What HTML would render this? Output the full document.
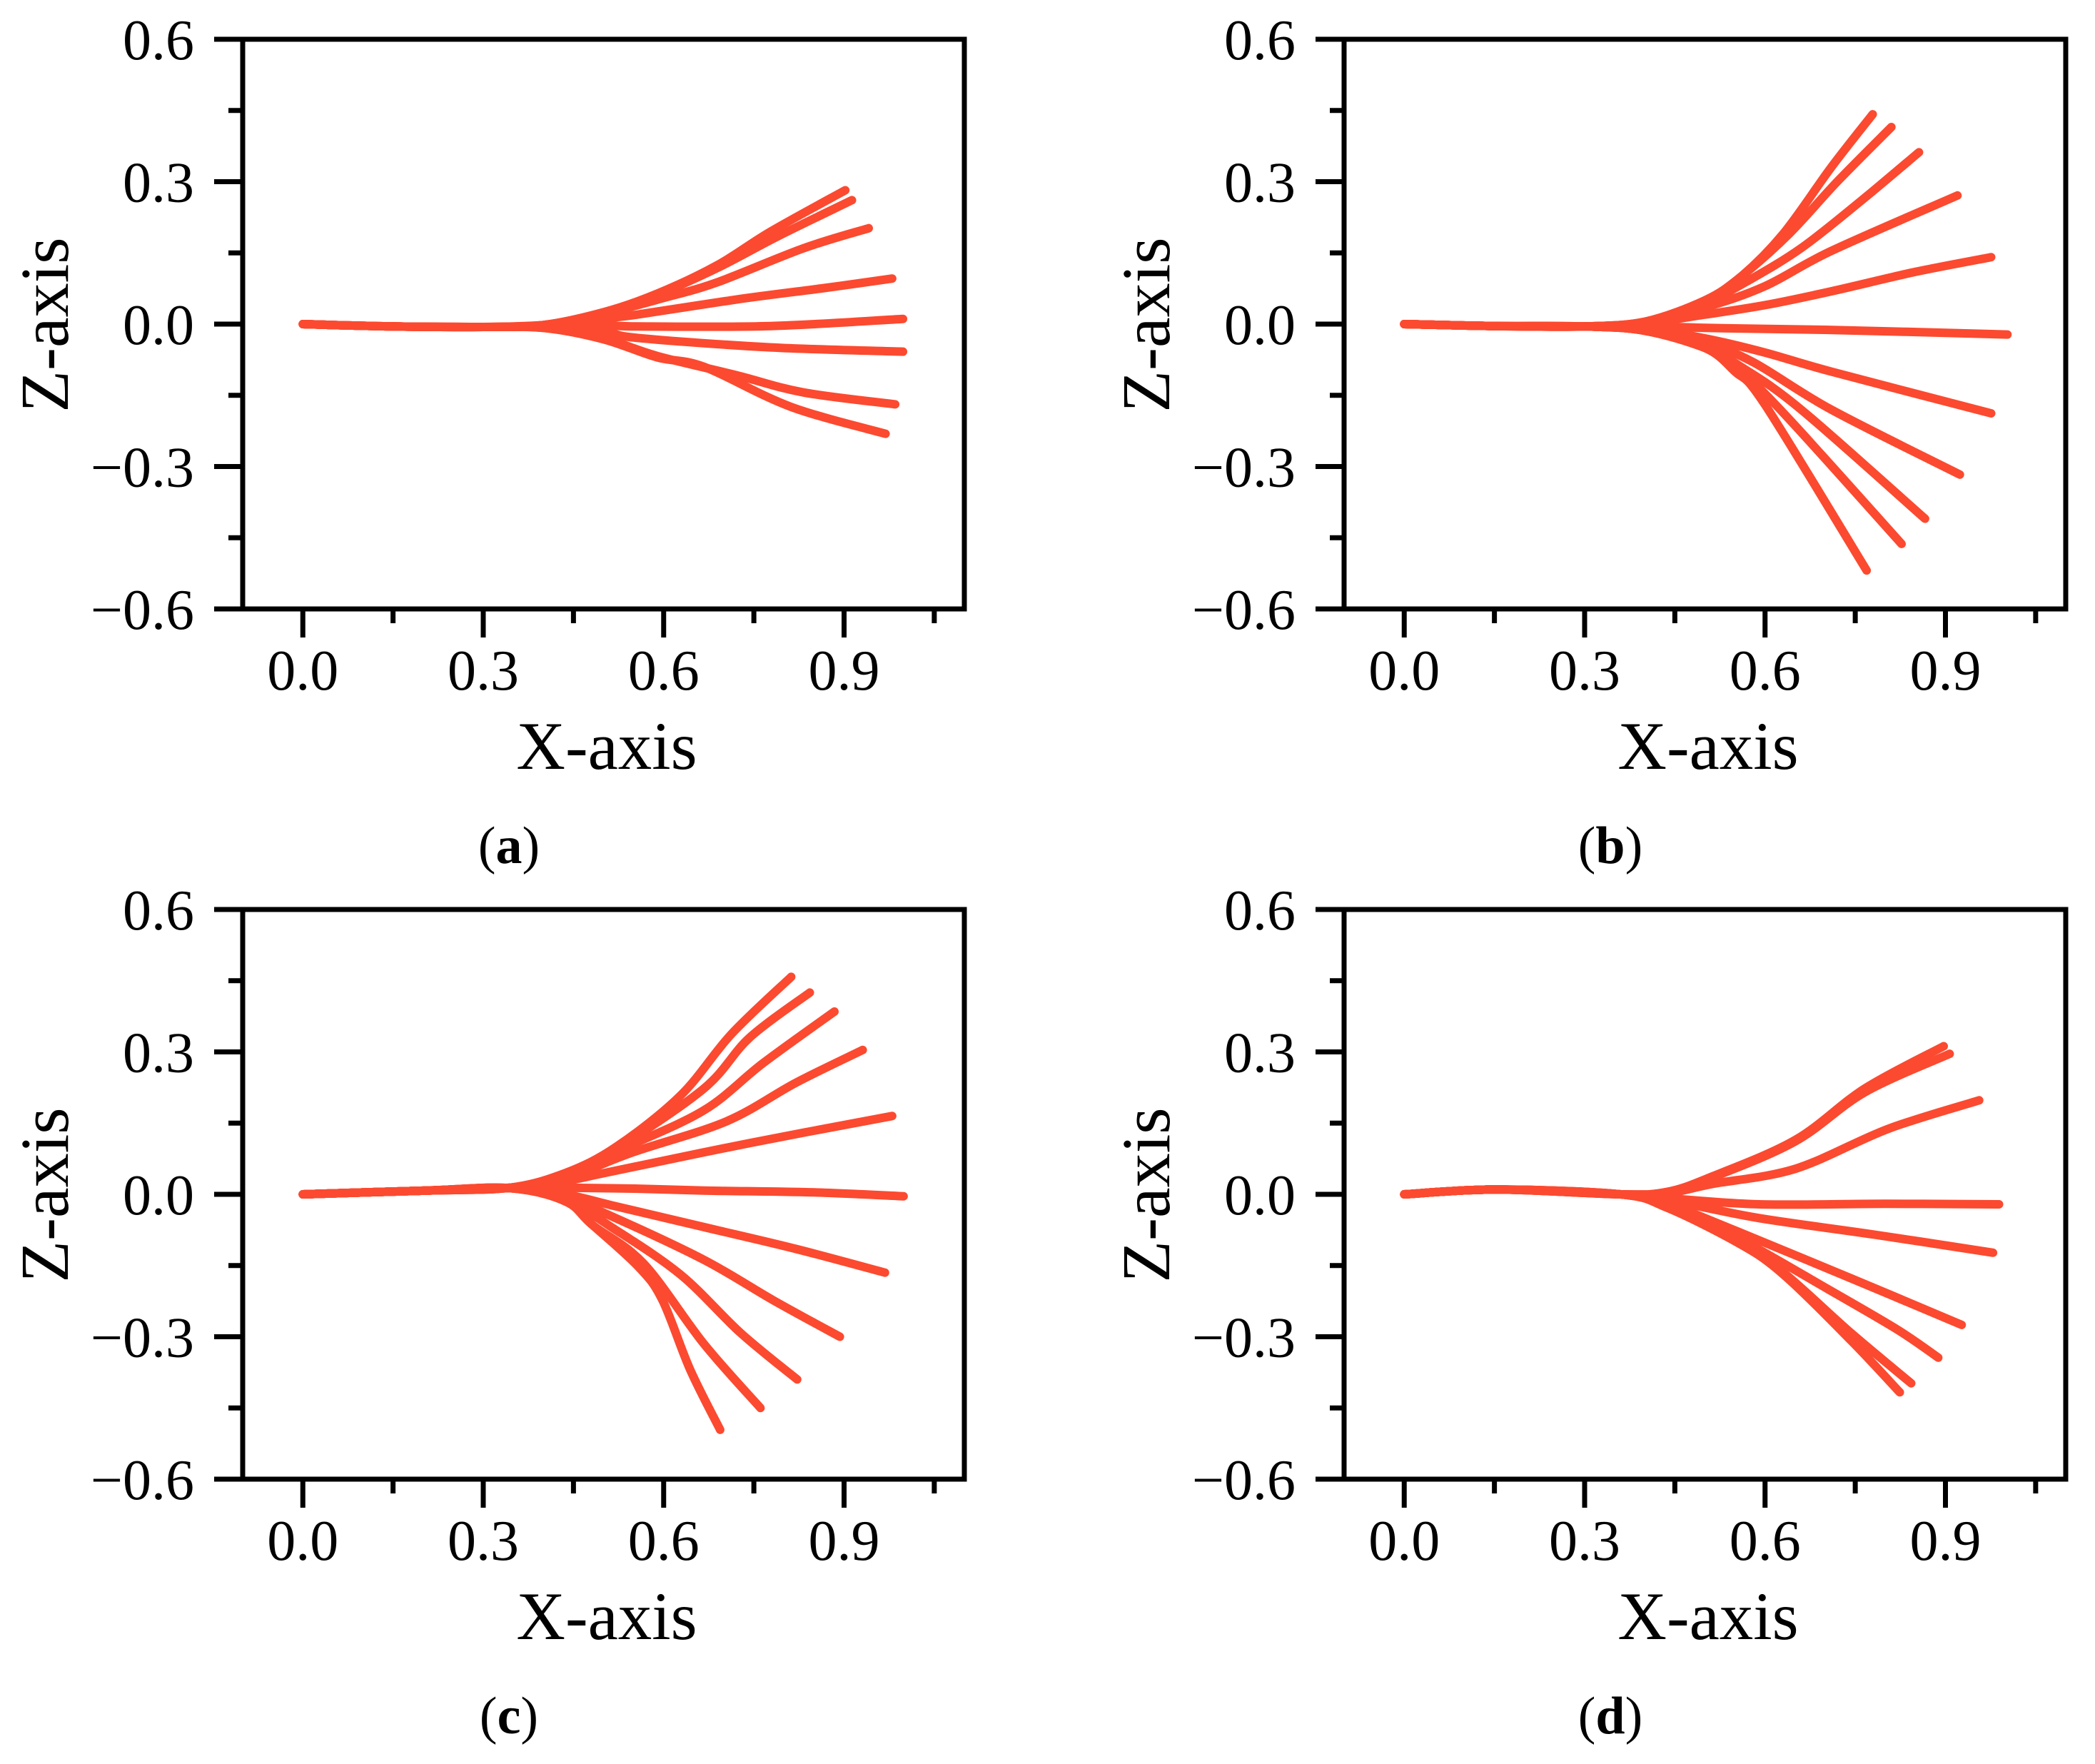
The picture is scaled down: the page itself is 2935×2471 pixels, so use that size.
<!DOCTYPE html>
<html><head><meta charset="utf-8">
<style>
html,body{margin:0;padding:0;background:#fff;}
svg{display:block;}
text{font-family:"Liberation Serif",serif;fill:#000;}
</style></head>
<body>
<svg id="fig" width="2935" height="2471" viewBox="0 0 2935 2471" xmlns="http://www.w3.org/2000/svg"></svg>
<script>
const xTicks = [0.0, 0.3, 0.6, 0.9];
const xMinor = [0.15, 0.45, 0.75, 1.05];
const yTicks = [0.6, 0.3, 0.0, -0.3, -0.6];
const yMinor = [0.45, 0.15, -0.15, -0.45];
const xTickLabels = ["0.0", "0.3", "0.6", "0.9"];
const yTickLabels = ["0.6", "0.3", "0.0", "\u22120.3", "\u22120.6"];
const panelLabels = ["a", "b", "c", "d"];

const curvesA = [
 [[0,0],[0.15,-0.005],[0.3,-0.006],[0.4,-0.002],[0.5,0.025],[0.589,0.064],[0.689,0.124],[0.778,0.195],[0.902,0.282]],
 [[0,0],[0.15,-0.005],[0.3,-0.006],[0.4,-0.002],[0.5,0.025],[0.589,0.062],[0.689,0.118],[0.79,0.185],[0.913,0.261]],
 [[0,0],[0.15,-0.005],[0.3,-0.006],[0.4,-0.002],[0.5,0.022],[0.6,0.055],[0.689,0.088],[0.833,0.16],[0.941,0.202]],
 [[0,0],[0.15,-0.005],[0.3,-0.006],[0.4,-0.002],[0.5,0.012],[0.556,0.02],[0.722,0.052],[0.867,0.076],[0.98,0.096]],
 [[0,0],[0.15,-0.005],[0.3,-0.006],[0.4,-0.004],[0.5,-0.002],[0.556,-0.005],[0.778,-0.004],[0.998,0.011]],
 [[0,0],[0.15,-0.005],[0.3,-0.006],[0.4,-0.006],[0.5,-0.015],[0.556,-0.029],[0.778,-0.049],[0.998,-0.058]],
 [[0,0],[0.15,-0.005],[0.3,-0.006],[0.4,-0.008],[0.5,-0.03],[0.589,-0.067],[0.722,-0.108],[0.833,-0.144],[0.985,-0.169]],
 [[0,0],[0.15,-0.005],[0.3,-0.006],[0.4,-0.008],[0.5,-0.032],[0.589,-0.07],[0.667,-0.09],[0.811,-0.174],[0.969,-0.231]]
];
const curvesB = [
 [[0,0],[0.15,-0.004],[0.3,-0.005],[0.4,0.005],[0.5,0.05],[0.56,0.1],[0.63,0.19],[0.71,0.33],[0.779,0.442]],
 [[0,0],[0.15,-0.004],[0.3,-0.005],[0.4,0.005],[0.5,0.05],[0.56,0.1],[0.64,0.19],[0.72,0.3],[0.81,0.415]],
 [[0,0],[0.15,-0.004],[0.3,-0.005],[0.4,0.005],[0.5,0.045],[0.57,0.09],[0.66,0.16],[0.76,0.26],[0.856,0.362]],
 [[0,0],[0.15,-0.004],[0.3,-0.005],[0.4,0.004],[0.5,0.035],[0.6,0.08],[0.71,0.154],[0.92,0.271]],
 [[0,0],[0.15,-0.004],[0.3,-0.005],[0.4,0.002],[0.5,0.02],[0.6,0.04],[0.71,0.069],[0.85,0.11],[0.976,0.141]],
 [[0,0],[0.15,-0.004],[0.3,-0.005],[0.4,-0.004],[0.5,-0.008],[0.7,-0.012],[1.003,-0.022]],
 [[0,0],[0.15,-0.004],[0.3,-0.005],[0.4,-0.01],[0.5,-0.03],[0.6,-0.06],[0.71,-0.1],[0.976,-0.188]],
 [[0,0],[0.15,-0.004],[0.3,-0.005],[0.4,-0.012],[0.5,-0.04],[0.58,-0.08],[0.71,-0.18],[0.924,-0.317]],
 [[0,0],[0.15,-0.004],[0.3,-0.005],[0.4,-0.014],[0.5,-0.05],[0.56,-0.09],[0.66,-0.18],[0.866,-0.41]],
 [[0,0],[0.15,-0.004],[0.3,-0.005],[0.4,-0.014],[0.5,-0.05],[0.56,-0.1],[0.64,-0.2],[0.827,-0.463]],
 [[0,0],[0.15,-0.004],[0.3,-0.005],[0.4,-0.014],[0.5,-0.05],[0.55,-0.1],[0.6,-0.17],[0.769,-0.519]]
];
const curvesC = [
 [[0,0],[0.207,0.008],[0.345,0.014],[0.437,0.045],[0.521,0.1],[0.628,0.208],[0.713,0.338],[0.812,0.458]],
 [[0,0],[0.207,0.008],[0.345,0.014],[0.437,0.045],[0.521,0.096],[0.667,0.223],[0.743,0.33],[0.843,0.425]],
 [[0,0],[0.207,0.008],[0.345,0.014],[0.437,0.04],[0.53,0.095],[0.667,0.177],[0.766,0.277],[0.884,0.385]],
 [[0,0],[0.207,0.008],[0.345,0.014],[0.437,0.035],[0.552,0.09],[0.705,0.154],[0.82,0.235],[0.931,0.304]],
 [[0,0],[0.207,0.008],[0.345,0.014],[0.437,0.028],[0.513,0.048],[0.743,0.108],[0.98,0.165]],
 [[0,0],[0.207,0.008],[0.345,0.014],[0.437,0.014],[0.55,0.012],[0.667,0.008],[0.85,0.004],[0.999,-0.004]],
 [[0,0],[0.207,0.008],[0.345,0.013],[0.437,0.0],[0.513,-0.023],[0.667,-0.069],[0.82,-0.115],[0.968,-0.165]],
 [[0,0],[0.207,0.008],[0.345,0.013],[0.437,-0.008],[0.513,-0.046],[0.667,-0.138],[0.782,-0.223],[0.893,-0.3]],
 [[0,0],[0.207,0.008],[0.345,0.013],[0.437,-0.012],[0.513,-0.069],[0.628,-0.169],[0.728,-0.292],[0.822,-0.39]],
 [[0,0],[0.207,0.008],[0.345,0.013],[0.437,-0.015],[0.482,-0.065],[0.567,-0.146],[0.667,-0.315],[0.761,-0.45]],
 [[0,0],[0.207,0.008],[0.345,0.013],[0.437,-0.015],[0.482,-0.065],[0.559,-0.154],[0.598,-0.223],[0.644,-0.369],[0.694,-0.496]]
];
const curvesD = [
 [[0,0],[0.153,0.01],[0.36,0],[0.437,0.005],[0.513,0.038],[0.651,0.115],[0.766,0.223],[0.897,0.312]],
 [[0,0],[0.153,0.01],[0.36,0],[0.437,0.005],[0.513,0.036],[0.651,0.112],[0.766,0.215],[0.907,0.296]],
 [[0,0],[0.153,0.01],[0.36,0],[0.437,0.002],[0.513,0.022],[0.651,0.054],[0.805,0.138],[0.956,0.198]],
 [[0,0],[0.153,0.01],[0.36,0],[0.437,-0.008],[0.59,-0.021],[0.8,-0.02],[0.989,-0.021]],
 [[0,0],[0.153,0.01],[0.36,0],[0.437,-0.012],[0.59,-0.05],[0.782,-0.085],[0.979,-0.123]],
 [[0,0],[0.153,0.01],[0.36,0],[0.437,-0.02],[0.552,-0.077],[0.743,-0.177],[0.927,-0.275]],
 [[0,0],[0.153,0.01],[0.36,0],[0.437,-0.025],[0.552,-0.09],[0.705,-0.2],[0.82,-0.285],[0.888,-0.344]],
 [[0,0],[0.153,0.01],[0.36,0],[0.437,-0.028],[0.552,-0.1],[0.628,-0.162],[0.743,-0.292],[0.843,-0.398]],
 [[0,0],[0.153,0.01],[0.36,0],[0.437,-0.028],[0.552,-0.1],[0.628,-0.166],[0.743,-0.308],[0.824,-0.417]]
];
const allCurves = [curvesA, curvesB, curvesC, curvesD];

const NS = "http://www.w3.org/2000/svg";
const svg = document.getElementById("fig");
const panelLeft = [340, 1883, 340, 1883];
const panelTop = [55, 55, 1274, 1274];
const W = 1011, H = 798;
const XMIN = -0.1, XMAX = 1.1, YMIN = -0.6, YMAX = 0.6;

function mk(tag, attrs, parent) {
  const e = document.createElementNS(NS, tag);
  for (const k in attrs) e.setAttribute(k, attrs[k]);
  parent.appendChild(e);
  return e;
}
function smoothPath(pts) {
  let d = "M" + pts[0][0].toFixed(1) + "," + pts[0][1].toFixed(1);
  for (let i = 0; i < pts.length - 1; i++) {
    const p0 = pts[Math.max(i - 1, 0)], p1 = pts[i], p2 = pts[i + 1], p3 = pts[Math.min(i + 2, pts.length - 1)];
    const c1x = p1[0] + (p2[0] - p0[0]) / 6, c1y = p1[1] + (p2[1] - p0[1]) / 6;
    const c2x = p2[0] - (p3[0] - p1[0]) / 6, c2y = p2[1] - (p3[1] - p1[1]) / 6;
    d += " C" + c1x.toFixed(1) + "," + c1y.toFixed(1) + " " + c2x.toFixed(1) + "," + c2y.toFixed(1) + " " + p2[0].toFixed(1) + "," + p2[1].toFixed(1);
  }
  return d;
}

for (let p = 0; p < 4; p++) {
  const L = panelLeft[p], T = panelTop[p], R = L + W, B = T + H;
  const sx = v => L + (v - XMIN) / (XMAX - XMIN) * W;
  const sy = v => T + (YMAX - v) / (YMAX - YMIN) * H;
  const g = mk("g", {}, svg);
  
  

  const cg = mk("g", {}, g);
  
  
  allCurves[p].forEach((c, i) => {
    const pts = c.map(q => [sx(q[0]), sy(q[1])]);
    const path = mk("path", {d: smoothPath(pts), fill: "none", stroke: "#fb4a30", "stroke-width": 12, "stroke-linecap": "round", "stroke-linejoin": "round"}, cg);
    
    
  });

  const box = mk("rect", {x: L, y: T, width: W, height: H, fill: "none", stroke: "#000", "stroke-width": 7}, g);
  
  

  yTicks.forEach((v, i) => {
    const y = sy(v);
    const t = mk("line", {x1: L - 40, x2: L, y1: y, y2: y, stroke: "#000", "stroke-width": 7}, g);
    
    
    const lab = mk("text", {x: L - 68, y: y + 28, "text-anchor": "end", "font-size": 80}, g);
    lab.textContent = yTickLabels[i];
    
    
  });
  yMinor.forEach(v => {
    const y = sy(v);
    const t = mk("line", {x1: L - 20, x2: L, y1: y, y2: y, stroke: "#000", "stroke-width": 7}, g);
    
    
  });
  xTicks.forEach((v, i) => {
    const x = sx(v);
    const t = mk("line", {x1: x, x2: x, y1: B, y2: B + 40, stroke: "#000", "stroke-width": 7}, g);
    
    
    const lab = mk("text", {x: x, y: B + 113, "text-anchor": "middle", "font-size": 80}, g);
    lab.textContent = xTickLabels[i];
    
    
  });
  xMinor.forEach(v => {
    const x = sx(v);
    const t = mk("line", {x1: x, x2: x, y1: B, y2: B + 20, stroke: "#000", "stroke-width": 7}, g);
    
    
  });
  const xt = mk("text", {x: L + 510, y: B + 224, "text-anchor": "middle", "font-size": 95}, g);
  xt.textContent = "X-axis";
  
  
  const yx = L - 245, yy = T + 400;
  const yt = mk("text", {x: yx, y: yy, "text-anchor": "middle", "font-size": 96, transform: "rotate(-90 " + yx + " " + yy + ")"}, g);
  yt.textContent = "Z-axis";
  
  
  const pl = mk("text", {x: L + 373, y: B + 356, "text-anchor": "middle", "font-size": 74}, g);
  pl.textContent = "(";
  const tb = document.createElementNS(NS, "tspan");
  tb.setAttribute("font-weight", "bold");
  tb.textContent = panelLabels[p];
  pl.appendChild(tb);
  pl.appendChild(document.createTextNode(")"));
  
  
}
</script>
</body></html>
